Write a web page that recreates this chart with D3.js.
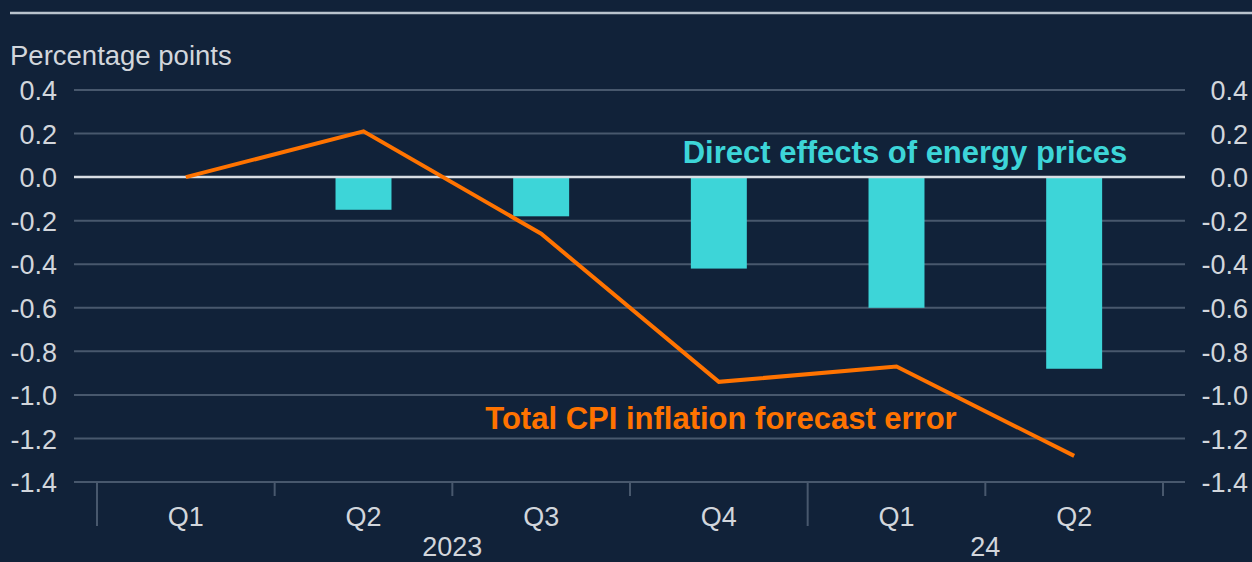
<!DOCTYPE html>
<html>
<head>
<meta charset="utf-8">
<script src="https://cdn.jsdelivr.net/npm/d3@7"></script>
<style>
  html, body { margin: 0; padding: 0; background: #112239; }
  svg { display: block; }
  text { font-family: "Liberation Sans", Arial, Helvetica, sans-serif; }
</style>
</head>
<body>
<svg id="chart" width="1252" height="562"></svg>
<script>
// ---- data ----
const categories = ["Q1", "Q2", "Q3", "Q4", "Q1", "Q2"];
const yearLabels = ["2023", "24"];
const yearSpans = [4, 2];            // number of quarters under each year label
const energyEffects = [null, -0.15, -0.18, -0.42, -0.60, -0.88];
const forecastError = [0.0, 0.21, -0.26, -0.94, -0.87, -1.28];
const yTicks = [0.4, 0.2, 0.0, -0.2, -0.4, -0.6, -0.8, -1.0, -1.2, -1.4];
const unitLabel = "Percentage points";
const barLabel = "Direct effects of energy prices";
const lineLabel = "Total CPI inflation forecast error";

// ---- layout ----
const W = 1252, H = 562;
const plotL = 97, plotR = 1163;
const gridL = 74, gridR = 1185;
const yTop = 90, yBot = 482;

const colors = {
  bg: "#112239", grid: "#48586d", zero: "#d9dee4", text: "#d2d6dc",
  bar: "#3dd5d8", line: "#ff7300", rule: "#b9c3cd"
};

const svg = d3.select("#chart");
svg.append("rect").attr("width", W).attr("height", H).attr("fill", colors.bg);

// top rule
svg.append("line").attr("x1", 10).attr("x2", W).attr("y1", 13).attr("y2", 13)
  .attr("stroke", colors.rule).attr("stroke-width", 2.5);

const idx = categories.map((d, i) => i);
const x = d3.scaleBand().domain(idx).range([plotL, plotR]).paddingInner(0.685).paddingOuter(0.3425);
const step = x.step();
const xc = i => x(i) + x.bandwidth() / 2;

const y = d3.scaleLinear().domain([-1.4, 0.4]).range([yBot, yTop]);

// gridlines
svg.append("g").selectAll("line").data(yTicks.filter(v => v !== 0)).join("line")
  .attr("x1", gridL).attr("x2", gridR)
  .attr("y1", d => y(d)).attr("y2", d => y(d))
  .attr("stroke", colors.grid).attr("stroke-width", 2);

// left / right axis labels
const fmt = d => d.toFixed(1);
const leftAxis = svg.append("g").attr("transform", `translate(57,0)`)
  .call(d3.axisLeft(y).tickValues(yTicks).tickSize(0).tickPadding(0).tickFormat(fmt));
const rightAxis = svg.append("g").attr("transform", `translate(1248,0)`)
  .call(d3.axisLeft(y).tickValues(yTicks).tickSize(0).tickPadding(0).tickFormat(fmt));
[leftAxis, rightAxis].forEach(g => {
  g.select(".domain").remove();
  g.selectAll("text").attr("fill", colors.text).attr("font-size", 27)
    .attr("font-family", "Liberation Sans, Arial, sans-serif").attr("dy", "0.36em");
});

// unit label
svg.append("text").attr("x", 10).attr("y", 65).attr("fill", colors.text)
  .attr("font-size", 27.5).text(unitLabel);

// bars
svg.append("g").selectAll("rect").data(energyEffects.map((v, i) => ({v, i})).filter(d => d.v !== null))
  .join("rect")
  .attr("x", d => x(d.i)).attr("width", x.bandwidth())
  .attr("y", d => Math.min(y(0), y(d.v))).attr("height", d => Math.abs(y(d.v) - y(0)))
  .attr("fill", colors.bar);

// zero line
svg.append("line").attr("x1", gridL).attr("x2", gridR).attr("y1", y(0)).attr("y2", y(0))
  .attr("stroke", colors.zero).attr("stroke-width", 2.5);

// x axis quarter labels
const xAxis = svg.append("g").attr("transform", `translate(0,${yBot})`)
  .call(d3.axisBottom(x).tickSize(0).tickPadding(0).tickFormat(i => categories[i]));
xAxis.select(".domain").remove();
xAxis.selectAll("text").attr("fill", colors.text).attr("font-size", 27)
  .attr("font-family", "Liberation Sans, Arial, sans-serif").attr("dy", null).attr("y", 44);

// x axis ticks at band boundaries
const boundaries = idx.map(i => plotL + i * step).concat([plotR]);
let cum = [0]; yearSpans.forEach(s => cum.push(cum[cum.length - 1] + s));
const bigIdx = new Set(cum.slice(0, -1));
svg.append("g").selectAll("line").data(boundaries.map((b, i) => ({b, i}))).join("line")
  .attr("x1", d => d.b).attr("x2", d => d.b)
  .attr("y1", yBot).attr("y2", d => bigIdx.has(d.i) ? 526 : 496)
  .attr("stroke", colors.grid).attr("stroke-width", 2);

// year labels
svg.append("g").selectAll("text").data(yearLabels.map((l, k) => ({l, k}))).join("text")
  .attr("x", d => plotL + (cum[d.k] + yearSpans[d.k] / 2) * step)
  .attr("y", 556).attr("text-anchor", "middle").attr("fill", colors.text)
  .attr("font-size", 27).text(d => d.l);

// line series
const lineGen = d3.line().x((d, i) => xc(i)).y(d => y(d));
svg.append("path").datum(forecastError).attr("d", lineGen)
  .attr("fill", "none").attr("stroke", colors.line).attr("stroke-width", 4)
  .attr("stroke-linejoin", "miter");

// annotations
svg.append("text").attr("x", 905).attr("y", 163).attr("text-anchor", "middle")
  .attr("fill", colors.bar).attr("font-size", 31).attr("font-weight", "bold").text(barLabel);
svg.append("text").attr("x", 721).attr("y", 429).attr("text-anchor", "middle")
  .attr("fill", colors.line).attr("font-size", 31).attr("font-weight", "bold").text(lineLabel);
</script>
</body>
</html>
